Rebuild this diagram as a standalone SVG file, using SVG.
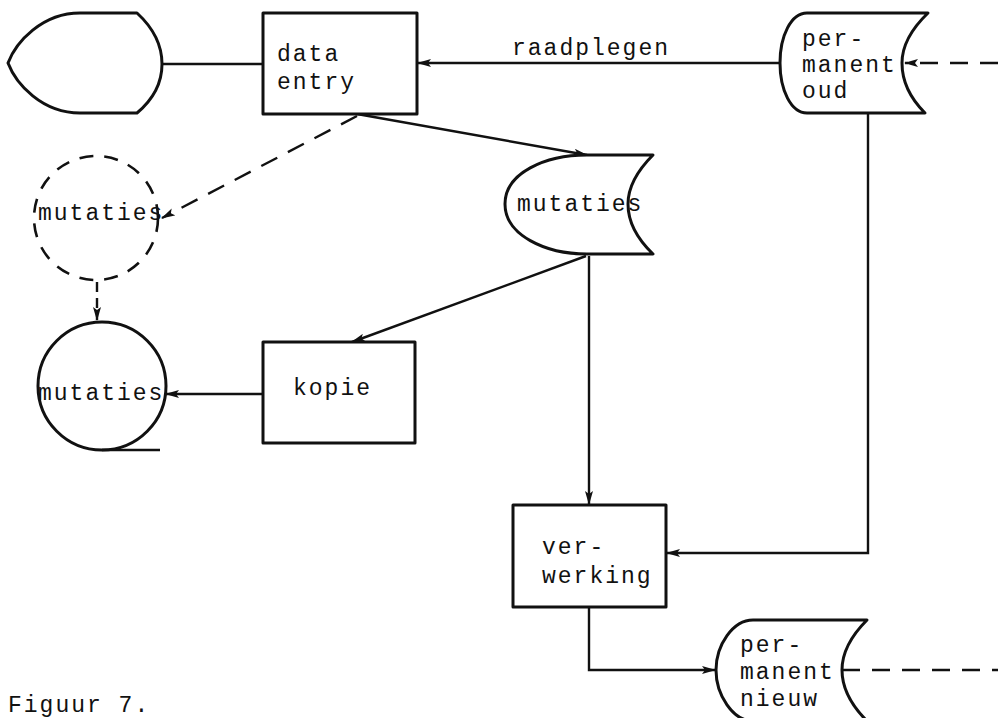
<svg xmlns="http://www.w3.org/2000/svg" width="998" height="718" viewBox="0 0 998 718">
  <defs>
    <marker id="ah" viewBox="0 0 14 8" refX="13" refY="4" markerWidth="15" markerHeight="8" markerUnits="userSpaceOnUse" orient="auto">
      <path d="M0,0 L14,4 L0,8 L3,4 Z" fill="#111"/>
    </marker>
    <style>
      .shape { fill: #fff; stroke: #111; stroke-width: 3; stroke-linejoin: round; }
      .dash-shape { fill: none; stroke: #111; stroke-width: 2.6; stroke-dasharray: 14 11; }
      .line { fill: none; stroke: #111; stroke-width: 2.4; }
      .dashed { fill: none; stroke: #111; stroke-width: 2.4; stroke-dasharray: 18 12; }
      .arrow { marker-end: url(#ah); }
      text { font-family: "Liberation Mono", "Courier New", monospace; font-size: 23px; letter-spacing: 2px; fill: #111; }
    </style>
  </defs>
  <rect width="998" height="718" fill="#fff"/>

  <!-- connectors -->
  <g id="connectors">
    <line class="line" x1="162" y1="64" x2="262" y2="64"/>
    <line class="line arrow" x1="780" y1="63" x2="418" y2="63"/>
    <line class="dashed arrow" x1="998" y1="63" x2="905" y2="63"/>
    <line class="line arrow" x1="357" y1="114" x2="587" y2="155"/>
    <line class="dashed arrow" x1="357" y1="116" x2="162" y2="218" stroke-dasharray="26 14"/>
    <line class="line arrow" x1="586" y1="256" x2="352" y2="342"/>
    <line class="line arrow" x1="589" y1="256" x2="589" y2="504"/>
    <polyline class="line arrow" points="868,113 868,553 667,553"/>
    <line class="line arrow" x1="263" y1="394" x2="166" y2="394"/>
    <line class="line arrow" x1="97" y1="282" x2="97" y2="320" stroke-dasharray="10 6"/>
    <polyline class="line arrow" points="589,607 589,670 715,670"/>
    <line class="dashed" x1="842" y1="670" x2="998" y2="670"/>
  </g>

  <!-- display -->
  <g id="display">
    <path class="shape" d="M80,13 L137,13 Q162,36 162,64 Q162,92 137,113 L80,113 C42,113 16,84 8,63 C16,42 42,13 80,13 Z"/>
  </g>

  <!-- data entry -->
  <g id="data-entry">
    <rect class="shape" x="263" y="13" width="154" height="101"/>
    <text x="277" y="61">data</text>
    <text x="277" y="89">entry</text>
  </g>
  <text x="512" y="55">raadplegen</text>

  <!-- permanent oud -->
  <g id="permanent-oud">
    <path class="shape" d="M807,13 L928,13 Q902,38 902,63 Q902,90 925,113 L807,113 C791,113 780,90 780,63 C780,36 791,13 807,13 Z"/>
    <text x="802" y="46">per-</text>
    <text x="802" y="72">manent</text>
    <text x="802" y="98">oud</text>
  </g>

  <!-- mutaties (disk) -->
  <g id="mutaties-disk">
    <path class="shape" d="M587,155 L653,155 Q628,180 628,204 Q628,230 653,254 L587,254 C545,254 505,235 505,204 C505,173 545,155 587,155 Z"/>
    <text x="517" y="211">mutaties</text>
  </g>

  <!-- mutaties (dashed) -->
  <g id="mutaties-dashed">
    <circle class="dash-shape" cx="96" cy="218" r="62"/>
    <text x="38" y="220">mutaties</text>
  </g>

  <!-- mutaties (tape) -->
  <g id="mutaties-tape">
    <circle class="shape" cx="102" cy="386" r="64"/>
    <line class="line" x1="102" y1="450" x2="160" y2="450" stroke-width="3"/>
    <text x="38" y="400">mutaties</text>
  </g>

  <!-- kopie -->
  <g id="kopie">
    <rect class="shape" x="263" y="342" width="152" height="101"/>
    <text x="293" y="395">kopie</text>
  </g>

  <!-- verwerking -->
  <g id="verwerking">
    <rect class="shape" x="513" y="505" width="153" height="102"/>
    <text x="542" y="554">ver-</text>
    <text x="542" y="583">werking</text>
  </g>

  <!-- permanent nieuw -->
  <g id="permanent-nieuw">
    <path class="shape" d="M753,620 L867,620 Q842,645 842,670 Q842,696 867,721 L753,721 C733,721 716,695 716,670 C716,645 733,620 753,620 Z"/>
    <text x="740" y="652">per-</text>
    <text x="740" y="679">manent</text>
    <text x="740" y="706">nieuw</text>
  </g>

  <text x="8" y="712">Figuur 7.</text>
</svg>
